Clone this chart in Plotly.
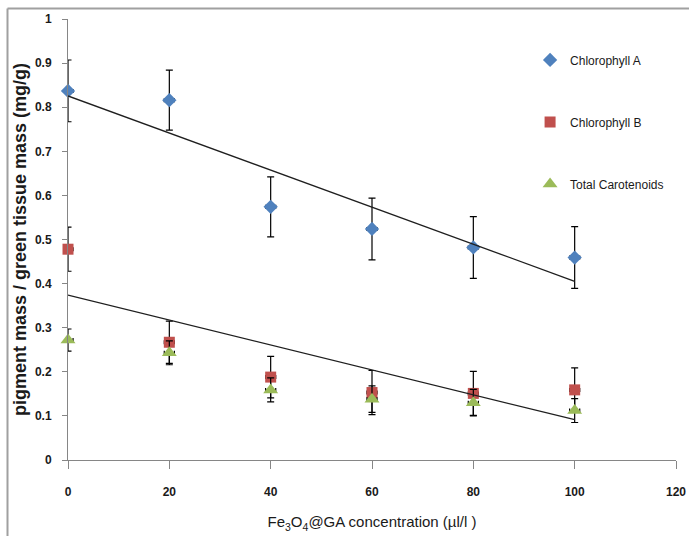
import numpy as np
import plotly.graph_objects as go

conc = [0, 20, 40, 60, 80, 100]
chl_a = [0.837, 0.816, 0.574, 0.524, 0.482, 0.459]
chl_a_err = [0.07, 0.068, 0.068, 0.07, 0.07, 0.07]
chl_b = [0.478, 0.267, 0.188, 0.153, 0.151, 0.159]
chl_b_err = [0.05, 0.048, 0.047, 0.05, 0.05, 0.05]
carot = [0.272, 0.243, 0.159, 0.138, 0.130, 0.112]
carot_err = [0.025, 0.027, 0.027, 0.03, 0.03, 0.027]
x_err = [1, 1, 1, 1, 1, 1]

x_ticks = [0, 20, 40, 60, 80, 100, 120]
y_ticks = [0, 0.1, 0.2, 0.3, 0.4, 0.5, 0.6, 0.7, 0.8, 0.9, 1]
y_ticklabels = ["0", "0.1", "0.2", "0.3", "0.4", "0.5", "0.6", "0.7", "0.8", "0.9", "1"]

FONT = "Liberation Sans, Arial, sans-serif"
TXT = "#1a1a1a"

def errs(arr):
    return dict(type="data", array=arr, visible=True, color="#000000", thickness=1.2, width=3.5)

fig = go.Figure()

series = [
    ("Chlorophyll B", chl_b, chl_b_err, "square", "#C0504D", 11),
    ("Total Carotenoids", carot, carot_err, "triangle-up", "#9BBB59", 13),
    ("Chlorophyll A", chl_a, chl_a_err, "diamond", "#4F81BD", 11),
]
ranks = {"Chlorophyll A": 1, "Chlorophyll B": 2, "Total Carotenoids": 3}
for name, ys, ye, sym, col, sz in series:
    fig.add_trace(go.Scatter(
        x=conc, y=ys, mode="markers", name=name,
        legendgroup=name, legendrank=ranks[name],
        marker=dict(symbol=sym, color=col, size=sz, line=dict(width=0)),
        error_y=errs(ye),
        error_x=dict(type="data", array=x_err, visible=True, color="#000000", thickness=1.2, width=2),
        cliponaxis=False,
    ))

# linear trendlines (least-squares fit of the data, as in the original spreadsheet)
for ys in (chl_a, chl_b):
    k, b = np.polyfit(conc, ys, 1)
    xs = [conc[0], conc[-1]]
    fig.add_trace(go.Scatter(
        x=xs, y=[k * v + b for v in xs], mode="lines",
        line=dict(color="#1f1f1f", width=1.3), showlegend=False, hoverinfo="skip",
    ))

axis_common = dict(
    showgrid=False, zeroline=False, showline=True, linecolor="#868686", linewidth=1,
    ticks="outside", tickcolor="#868686", tickwidth=1, automargin=False,
    tickfont=dict(family=FONT, size=12, color=TXT, weight="bold"),
)

fig.update_layout(
    width=689, height=536,
    margin=dict(l=68, r=13, t=19, b=76),
    paper_bgcolor="white", plot_bgcolor="white",
    xaxis=dict(range=[0, 120], tickvals=x_ticks, ticklen=8, ticklabelstandoff=13,
               title=dict(text="Fe<sub>3</sub>O<sub>4</sub>@GA concentration (µl/l )",
                          font=dict(family=FONT, size=15, color=TXT), standoff=18),
               **axis_common),
    yaxis=dict(range=[0, 1], tickvals=y_ticks, ticktext=y_ticklabels, ticklen=5, ticklabelstandoff=8,
               title=dict(text="pigment mass / green tissue mass (mg/g)",
                          font=dict(family=FONT, size=18, color=TXT, weight="bold"), standoff=3),
               **axis_common),
    legend=dict(x=0.76, y=0.94, xanchor="left", yanchor="top", bgcolor="rgba(0,0,0,0)",
                font=dict(family=FONT, size=12, color=TXT),
                tracegroupgap=43, itemwidth=30),
    shapes=[
        dict(type="line", xref="paper", yref="paper",
             x0=(7.5 - 68) / 608, x1=(700 - 68) / 608,
             y0=(460 - 8.5) / 441, y1=(460 - 8.5) / 441,
             line=dict(color="#a0a0a0", width=2), layer="above"),
        dict(type="line", xref="paper", yref="paper",
             x0=(7.5 - 68) / 608, x1=(7.5 - 68) / 608,
             y0=(460 - 8.5) / 441, y1=(460 - 560) / 441,
             line=dict(color="#a0a0a0", width=2), layer="above"),
    ],
)

fig.write_html("out.html", config={"displayModeBar": False},
               post_script="document.body.style.margin='0';document.body.style.overflow='hidden';")
